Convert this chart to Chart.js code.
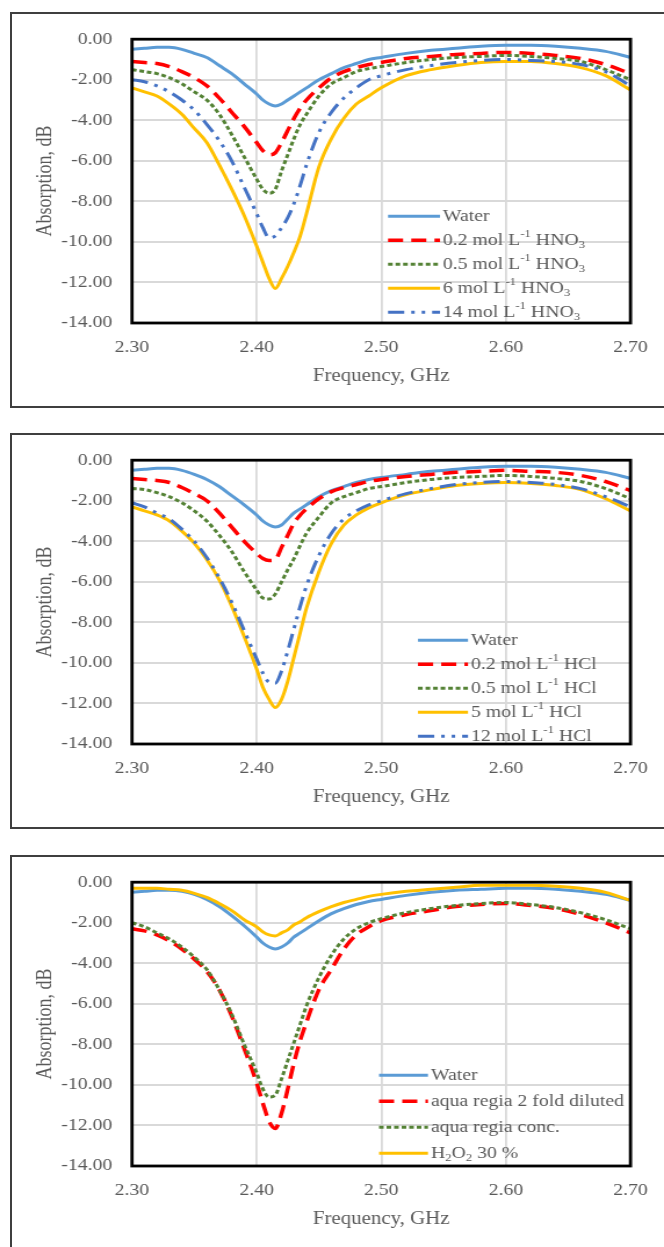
<!DOCTYPE html>
<html>
<head>
<meta charset="utf-8">
<title>Microwave absorption of acids</title>
<script src="https://cdn.jsdelivr.net/npm/chart.js@4.4.0/dist/chart.umd.min.js"></script>
<style>
    body { margin: 0; background: #fff; width: 664px; height: 1247px; overflow: hidden; position: relative; }
    .frame { position: absolute; left: 10px; width: 700px; height: 396px; box-sizing: border-box; border: 2px solid #3f3f3f; }
    .panel { position: absolute; left: 0; width: 572px; height: 396px; transform-origin: 0 0; }
</style>
</head>
<body>
<div class="frame" style="top:12px"></div>
<div class="frame" style="top:433px"></div>
<div class="frame" style="top:855px"></div>
<div class="panel" style="top:12px"><canvas id="chartHNO3"></canvas></div>
<div class="panel" style="top:433px"><canvas id="chartHCl"></canvas></div>
<div class="panel" style="top:855px"><canvas id="chartMix"></canvas></div>
<script>
// Frequency grid (GHz), shared by every series
const freq = [2.30, 2.31, 2.32, 2.33, 2.34, 2.35, 2.36, 2.37, 2.38, 2.39, 2.40, 2.405, 2.41, 2.415, 2.42, 2.425,
    2.43, 2.435, 2.44, 2.45, 2.46, 2.47, 2.48, 2.49, 2.50, 2.52, 2.54, 2.56, 2.58, 2.60, 2.62, 2.64, 2.66, 2.68, 2.70];

// Panel 1 - nitric acid
const water1 = [-0.5, -0.45, -0.4, -0.4, -0.5, -0.7, -0.9, -1.3, -1.7, -2.2, -2.7, -3.0, -3.2, -3.3, -3.2, -3.0,
    -2.8, -2.6, -2.4, -2.0, -1.7, -1.4, -1.2, -1.0, -0.9, -0.7, -0.55, -0.45, -0.35, -0.3, -0.3, -0.35, -0.45, -0.6, -0.9];
const hno3_02 = [-1.1, -1.15, -1.2, -1.35, -1.6, -1.9, -2.3, -2.9, -3.6, -4.3, -5.1, -5.5, -5.7, -5.6, -5.1, -4.5,
    -3.9, -3.4, -3.0, -2.4, -1.9, -1.6, -1.4, -1.25, -1.15, -0.95, -0.85, -0.75, -0.7, -0.65, -0.7, -0.8, -0.95, -1.25, -1.7];
const hno3_05 = [-1.5, -1.6, -1.7, -1.9, -2.2, -2.6, -3.0, -3.7, -4.7, -5.8, -6.9, -7.4, -7.6, -7.4, -6.5, -5.7,
    -4.9, -4.2, -3.7, -2.8, -2.2, -1.9, -1.6, -1.45, -1.35, -1.15, -1.0, -0.9, -0.85, -0.8, -0.85, -0.95, -1.1, -1.5, -2.0];
const hno3_6 = [-2.4, -2.6, -2.8, -3.2, -3.7, -4.4, -5.1, -6.2, -7.4, -8.7, -10.2, -11.0, -11.8, -12.3, -11.8, -11.2,
    -10.5, -9.7, -8.6, -6.3, -4.9, -3.9, -3.2, -2.8, -2.4, -1.8, -1.5, -1.3, -1.15, -1.1, -1.1, -1.2, -1.4, -1.8, -2.5];
const hno3_14 = [-2.0, -2.1, -2.3, -2.6, -3.0, -3.5, -4.2, -5.0, -6.0, -7.3, -8.6, -9.3, -9.8, -9.7, -9.3, -8.8,
    -8.1, -7.2, -6.2, -4.6, -3.6, -2.9, -2.4, -2.0, -1.8, -1.5, -1.3, -1.15, -1.05, -1.0, -1.05, -1.1, -1.25, -1.6, -2.3];
const labelsHNO3 = ['Water', '0.2 mol L^{-1} HNO_{3}', '0.5 mol L^{-1} HNO_{3}', '6 mol L^{-1} HNO_{3}', '14 mol L^{-1} HNO_{3}'];

// Panel 2 - hydrochloric acid
const water2 = [-0.5, -0.45, -0.4, -0.4, -0.5, -0.7, -0.95, -1.3, -1.75, -2.2, -2.7, -3.0, -3.2, -3.3, -3.2, -2.9,
    -2.6, -2.4, -2.2, -1.8, -1.5, -1.3, -1.1, -0.95, -0.85, -0.7, -0.55, -0.45, -0.35, -0.3, -0.3, -0.35, -0.45, -0.6, -0.9];
const hcl_02 = [-0.9, -0.95, -1.0, -1.1, -1.35, -1.65, -2.0, -2.6, -3.3, -4.0, -4.6, -4.85, -4.95, -4.9, -4.3, -3.7,
    -3.1, -2.7, -2.4, -1.9, -1.55, -1.35, -1.2, -1.05, -0.95, -0.8, -0.7, -0.6, -0.55, -0.5, -0.55, -0.6, -0.75, -1.05, -1.5];
const hcl_05 = [-1.4, -1.45, -1.6, -1.8, -2.1, -2.5, -3.0, -3.7, -4.5, -5.5, -6.4, -6.8, -6.85, -6.6, -6.0, -5.4,
    -4.85, -4.2, -3.6, -2.8, -2.1, -1.8, -1.6, -1.4, -1.3, -1.1, -0.95, -0.85, -0.8, -0.75, -0.8, -0.9, -1.05, -1.4, -1.9];
const hcl_5 = [-2.3, -2.5, -2.7, -3.0, -3.5, -4.1, -4.9, -5.9, -7.2, -8.7, -10.3, -11.2, -11.8, -12.2, -11.8, -10.9,
    -9.7, -8.5, -7.3, -5.5, -4.1, -3.2, -2.7, -2.35, -2.1, -1.7, -1.45, -1.25, -1.15, -1.1, -1.15, -1.25, -1.45, -1.9, -2.5];
const hcl_12 = [-2.1, -2.3, -2.6, -2.9, -3.4, -4.0, -4.8, -5.8, -7.0, -8.4, -9.8, -10.5, -10.95, -11.0, -10.4, -9.4,
    -8.3, -7.2, -6.2, -4.7, -3.6, -2.9, -2.5, -2.2, -2.0, -1.65, -1.4, -1.2, -1.1, -1.05, -1.1, -1.2, -1.4, -1.8, -2.3];
const labelsHCl = ['Water', '0.2 mol L^{-1} HCl', '0.5 mol L^{-1} HCl', '5 mol L^{-1} HCl', '12 mol L^{-1} HCl'];

// Panel 3 - aqua regia and peroxide
const water3 = [-0.5, -0.45, -0.4, -0.4, -0.45, -0.6, -0.85, -1.2, -1.65, -2.15, -2.7, -3.0, -3.2, -3.3, -3.2, -3.0,
    -2.7, -2.5, -2.3, -1.9, -1.55, -1.3, -1.1, -0.95, -0.85, -0.65, -0.5, -0.4, -0.35, -0.3, -0.3, -0.35, -0.45, -0.6, -0.9];
const arDiluted = [-2.3, -2.4, -2.6, -2.9, -3.3, -3.8, -4.4, -5.3, -6.6, -8.2, -9.9, -10.9, -11.8, -12.15, -11.4, -10.2,
    -8.9, -7.8, -6.9, -5.3, -4.3, -3.3, -2.6, -2.2, -1.9, -1.6, -1.4, -1.2, -1.1, -1.05, -1.15, -1.3, -1.6, -2.0, -2.5];
const arConc = [-2.0, -2.2, -2.5, -2.8, -3.2, -3.7, -4.3, -5.3, -6.5, -8.0, -9.4, -10.2, -10.6, -10.5, -9.7, -8.8,
    -7.9, -7.0, -6.1, -4.7, -3.6, -2.8, -2.3, -2.0, -1.8, -1.5, -1.3, -1.15, -1.05, -1.0, -1.1, -1.25, -1.5, -1.85, -2.3];
const h2o2 = [-0.3, -0.3, -0.3, -0.35, -0.4, -0.55, -0.75, -1.05, -1.4, -1.85, -2.2, -2.45, -2.6, -2.65, -2.5, -2.35,
    -2.1, -1.95, -1.75, -1.45, -1.2, -1.0, -0.85, -0.7, -0.6, -0.45, -0.35, -0.25, -0.15, -0.15, -0.15, -0.2, -0.3, -0.5, -0.9];
const labelsMix = ['Water', 'aqua regia 2 fold diluted', 'aqua regia conc.', 'H_{2}O_{2} 30 %'];

const xTicks = [2.30, 2.40, 2.50, 2.60, 2.70];
const yTicks = [0, -2, -4, -6, -8, -10, -12, -14];

// The original figure is stretched sideways, so each canvas is drawn narrow and scaled in x
const SX = 664 / 572;
document.querySelectorAll('.panel').forEach(p => { p.style.transform = 'scaleX(' + SX + ')'; });

const FONT = 'Liberation Serif';
const TEXT = '#595959';

const styles = {
    water: { color: '#5B9BD5', width: 3, dash: [] },
    red:   { color: '#FF0000', width: 3.5, dash: [13, 7] },
    green: { color: '#548235', width: 3, dash: [4, 2.5] },
    gold:  { color: '#FFC000', width: 3, dash: [] },
    blue:  { color: '#4472C4', width: 3, dash: [14, 6, 3, 6, 3, 6] }
};

function makeDataset(label, values, style, index) {
    return {
        label: label,
        data: freq.map((f, i) => ({ x: f, y: values[i] })),
        borderColor: style.color,
        borderWidth: style.width,
        borderDash: style.dash,
        pointRadius: 0,
        fill: false,
        cubicInterpolationMode: 'monotone',
        order: -index   // later series on top, like the source
    };
}

// draws "L^{-1}" / "HNO_{3}" style labels
function drawRich(ctx, text, x, y) {
    const parts = text.match(/\^\{[^}]*\}|_\{[^}]*\}|[^^_]+/g) || [];
    ctx.textBaseline = 'middle';
    ctx.textAlign = 'left';
    ctx.fillStyle = TEXT;
    parts.forEach(part => {
        let size = 17, dy = 0, str = part;
        if (part[0] === '^') { size = 11; dy = -6; str = part.slice(2, -1); }
        else if (part[0] === '_') { size = 11; dy = 5; str = part.slice(2, -1); }
        ctx.font = size + 'px "' + FONT + '"';
        ctx.fillText(str, x, y + dy);
        x += ctx.measureText(str).width;
    });
}

const inlineLegend = {
    id: 'inlineLegend',
    afterDraw(chart, args, opts) {
        const ctx = chart.ctx;
        const top = chart.chartArea.top;
        ctx.save();
        chart.data.datasets.forEach((ds, i) => {
            const y = top + opts.top + i * opts.gap;
            const x0 = opts.left / SX;
            const x1 = x0 + opts.sample / SX;
            ctx.beginPath();
            ctx.setLineDash(ds.borderDash || []);
            ctx.lineWidth = ds.borderWidth;
            ctx.strokeStyle = ds.borderColor;
            ctx.moveTo(x0, y);
            ctx.lineTo(x1, y);
            ctx.stroke();
            ctx.setLineDash([]);
            drawRich(ctx, ds.label, x1 + 3 / SX, y);
        });
        ctx.restore();
    }
};

const plotBorder = {
    id: 'plotBorder',
    afterDatasetsDraw(chart) {
        const a = chart.chartArea;
        const ctx = chart.ctx;
        ctx.save();
        ctx.lineWidth = 2.8;
        ctx.strokeStyle = '#000';
        ctx.strokeRect(a.left, a.top, a.right - a.left, a.bottom - a.top);
        ctx.restore();
    }
};

function makeChart(id, datasets, legendOpts) {
    return new Chart(document.getElementById(id), {
        type: 'line',
        data: { datasets: datasets },
        plugins: [plotBorder, inlineLegend],
        options: {
            responsive: true,
            maintainAspectRatio: false,
            animation: false,
            events: [],
            layout: { padding: { left: 0, right: (664 - 636) / SX, top: 20, bottom: 0 } },
            plugins: {
                legend: { display: false },
                tooltip: { enabled: false },
                inlineLegend: legendOpts
            },
            scales: {
                x: {
                    type: 'linear',
                    min: xTicks[0],
                    max: xTicks[xTicks.length - 1],
                    afterFit: s => { s.height = 85; },
                    afterBuildTicks: s => { s.ticks = xTicks.map(v => ({ value: v })); },
                    grid: { color: '#d9d9d9', lineWidth: 1.8, drawTicks: false },
                    border: { display: false },
                    ticks: {
                        padding: 14, color: TEXT, autoSkip: false, maxRotation: 0,
                        font: { family: FONT, size: 17 },
                        callback: v => Number(v).toFixed(2)
                    },
                    title: {
                        display: true, text: 'Frequency, GHz', color: TEXT,
                        font: { family: FONT, size: 18 },
                        padding: { top: 0, bottom: 21 }
                    }
                },
                y: {
                    min: yTicks[yTicks.length - 1],
                    max: yTicks[0],
                    afterFit: s => { s.width = 132 / SX; },
                    afterBuildTicks: s => { s.ticks = yTicks.map(v => ({ value: v })); },
                    grid: { color: '#d9d9d9', lineWidth: 2, drawTicks: false },
                    border: { display: false },
                    ticks: {
                        padding: 17, color: TEXT,
                        font: { family: FONT, size: 17 },
                        callback: v => Number(v).toFixed(2)
                    },
                    title: {
                        display: true, text: 'Absorption, dB', color: TEXT,
                        font: { family: FONT, size: 18 },
                        padding: { top: 28, bottom: 0 }
                    }
                }
            }
        }
    });
}

makeChart('chartHNO3', [
    makeDataset(labelsHNO3[0], water1, styles.water, 0),
    makeDataset(labelsHNO3[1], hno3_02, styles.red, 1),
    makeDataset(labelsHNO3[2], hno3_05, styles.green, 2),
    makeDataset(labelsHNO3[3], hno3_6, styles.gold, 3),
    makeDataset(labelsHNO3[4], hno3_14, styles.blue, 4)
], { left: 388, sample: 52, top: 177, gap: 24 });

makeChart('chartHCl', [
    makeDataset(labelsHCl[0], water2, styles.water, 0),
    makeDataset(labelsHCl[1], hcl_02, styles.red, 1),
    makeDataset(labelsHCl[2], hcl_05, styles.green, 2),
    makeDataset(labelsHCl[3], hcl_5, styles.gold, 3),
    makeDataset(labelsHCl[4], hcl_12, styles.blue, 4)
], { left: 418, sample: 50, top: 180, gap: 24 });

makeChart('chartMix', [
    makeDataset(labelsMix[0], water3, styles.water, 0),
    makeDataset(labelsMix[1], arDiluted, styles.red, 1),
    makeDataset(labelsMix[2], arConc, styles.green, 2),
    makeDataset(labelsMix[3], h2o2, styles.gold, 3)
], { left: 379, sample: 49, top: 193, gap: 26 });
</script>
</body>
</html>
